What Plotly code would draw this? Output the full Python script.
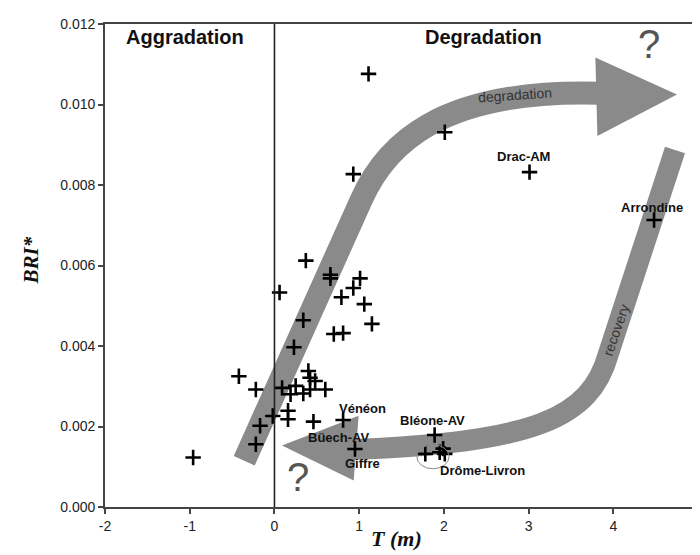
import plotly.graph_objects as go

# ---- data ----
T_m = [-0.96, -0.42, -0.22, -0.22, -0.17, -0.02, 0.06, 0.09, 0.16, 0.16,
       0.19, 0.23, 0.25, 0.34, 0.34, 0.37, 0.40, 0.42, 0.42, 0.46,
       0.48, 0.60, 0.66, 0.66, 0.70, 0.79, 0.81, 0.81, 0.93, 0.93,
       0.95, 1.01, 1.06, 1.11, 1.15, 1.78, 1.89, 1.95, 1.99, 2.01,
       2.01, 3.01, 4.48]
BRI = [0.00123, 0.00325, 0.00292, 0.00156, 0.00202, 0.00226, 0.00533, 0.00296, 0.00239, 0.00218,
       0.00280, 0.00397, 0.00301, 0.00464, 0.00282, 0.00612, 0.00338, 0.00321, 0.00292, 0.00212,
       0.00313, 0.00292, 0.00577, 0.00568, 0.00430, 0.00521, 0.00432, 0.00216, 0.00544, 0.00827,
       0.00144, 0.00568, 0.00504, 0.01076, 0.00455, 0.00132, 0.00179, 0.00136, 0.00145, 0.00132,
       0.00931, 0.00832, 0.00713]

site_names = ["Vénéon", "Büech-AV", "Giffre", "Bléone-AV", "Drôme-Livron", "Drac-AM", "Arrondine"]
site_label_x = [1.04, 0.75, 1.04, 1.87, 2.45, 2.94, 4.46]
site_label_y = [0.00244, 0.00173, 0.00107, 0.00216, 0.00090, 0.00870, 0.00744]

x_ticks = [-2, -1, 0, 1, 2, 3, 4, 5]
y_ticks = [0.000, 0.002, 0.004, 0.006, 0.008, 0.010, 0.012]

BAND = "#8a8a8a"
LABEL_FONT = "Liberation Sans, Arial"
SERIF = "Liberation Serif, Times New Roman"

fig = go.Figure()
fig.add_trace(go.Scatter(
    x=T_m, y=BRI, mode="markers",
    marker=dict(symbol="cross-thin", size=11, color="black",
                line=dict(width=2.6, color="black")),
    showlegend=False, hoverinfo="x+y"))

shapes = []
# degradation band + head
shapes.append(dict(type="path", xref="x", yref="y", layer="below",
                   path="M -0.357,0.00115 L 1.028,0.00765 C 1.298,0.00892 1.909,0.01040 3.85,0.01028",
                   line=dict(color=BAND, width=23), fillcolor="rgba(0,0,0,0)"))
shapes.append(dict(type="path", xref="x", yref="y", layer="below",
                   path="M 3.787,0.01117 L 4.750,0.01025 L 3.811,0.00922 Z",
                   line=dict(width=0), fillcolor=BAND))
# recovery band + head
shapes.append(dict(type="path", xref="x", yref="y", layer="below",
                   path="M 4.727,0.00887 L 3.940,0.00380 C 3.729,0.00222 3.083,0.00160 0.92,0.00143",
                   line=dict(color=BAND, width=21), fillcolor="rgba(0,0,0,0)"))
shapes.append(dict(type="path", xref="x", yref="y", layer="below",
                   path="M 0.993,0.00227 L 0.089,0.00153 L 0.935,0.00066 Z",
                   line=dict(width=0), fillcolor=BAND))
# ellipse around Drôme-Livron points
shapes.append(dict(type="circle", xref="x", yref="y",
                   x0=1.68, x1=2.06, y0=0.00095, y1=0.00155,
                   line=dict(color="#888", width=1)))
# vertical line at T = 0
shapes.append(dict(type="line", xref="x", yref="y", x0=0, x1=0, y0=0, y1=0.012,
                   line=dict(color="#222", width=1.6)))
fig.update_layout(shapes=shapes)

ann = []
for n, lx, ly in zip(site_names, site_label_x, site_label_y):
    ann.append(dict(x=lx, y=ly, text="<b>" + n + "</b>", showarrow=False,
                    font=dict(family=LABEL_FONT, size=13, color="#111")))
ann.append(dict(x=-1.06, y=0.01168, text="<b>Aggradation</b>", showarrow=False,
                font=dict(family=LABEL_FONT, size=20, color="#111")))
ann.append(dict(x=2.47, y=0.01168, text="<b>Degradation</b>", showarrow=False,
                font=dict(family=LABEL_FONT, size=20, color="#111")))
ann.append(dict(x=2.84, y=0.01024, text="degradation", showarrow=False, textangle=-4,
                font=dict(family=LABEL_FONT, size=14, color="#333")))
ann.append(dict(x=4.03, y=0.00440, text="recovery", showarrow=False, textangle=-71,
                font=dict(family=LABEL_FONT, size=14, color="#333")))
ann.append(dict(x=4.42, y=0.01150, text="?", showarrow=False,
                font=dict(family=LABEL_FONT, size=40, color="#555")))
ann.append(dict(x=0.28, y=0.00075, text="?", showarrow=False,
                font=dict(family=LABEL_FONT, size=40, color="#555")))
# axis titles
ann.append(dict(xref="paper", yref="paper", x=-0.125, y=0.51, xanchor="center", yanchor="middle",
                text="<b><i>BRI*</i></b>", showarrow=False, textangle=-90,
                font=dict(family=SERIF, size=21, color="#111")))
ann.append(dict(xref="paper", yref="paper", x=0.491, y=-0.066, xanchor="center", yanchor="middle",
                text="<b><i>T (m)</i></b>", showarrow=False,
                font=dict(family=SERIF, size=22, color="#111")))
fig.update_layout(annotations=ann)

fig.update_xaxes(range=[-2, 5.01], tickvals=x_ticks, ticktext=[str(v) for v in x_ticks],
                 ticklabeloverflow="allow",
                 ticks="outside", ticklen=5, tickwidth=1.5, tickcolor="#444",
                 showline=True, linecolor="#444", linewidth=1.8, mirror=True,
                 showgrid=False, zeroline=False,
                 tickfont=dict(family=LABEL_FONT, size=14, color="#222"))
fig.update_yaxes(range=[0, 0.012], tickvals=y_ticks, tickformat=".3f",
                 ticks="outside", ticklen=5, tickwidth=1.5, tickcolor="#444",
                 showline=True, linecolor="#444", linewidth=1.8, mirror=True,
                 showgrid=False, zeroline=False,
                 tickfont=dict(family=LABEL_FONT, size=14, color="#222"))

fig.update_layout(width=700, height=555, margin=dict(l=97, r=6, t=16, b=56),
                  plot_bgcolor="white", paper_bgcolor="white")

fig.write_html("out.html")
